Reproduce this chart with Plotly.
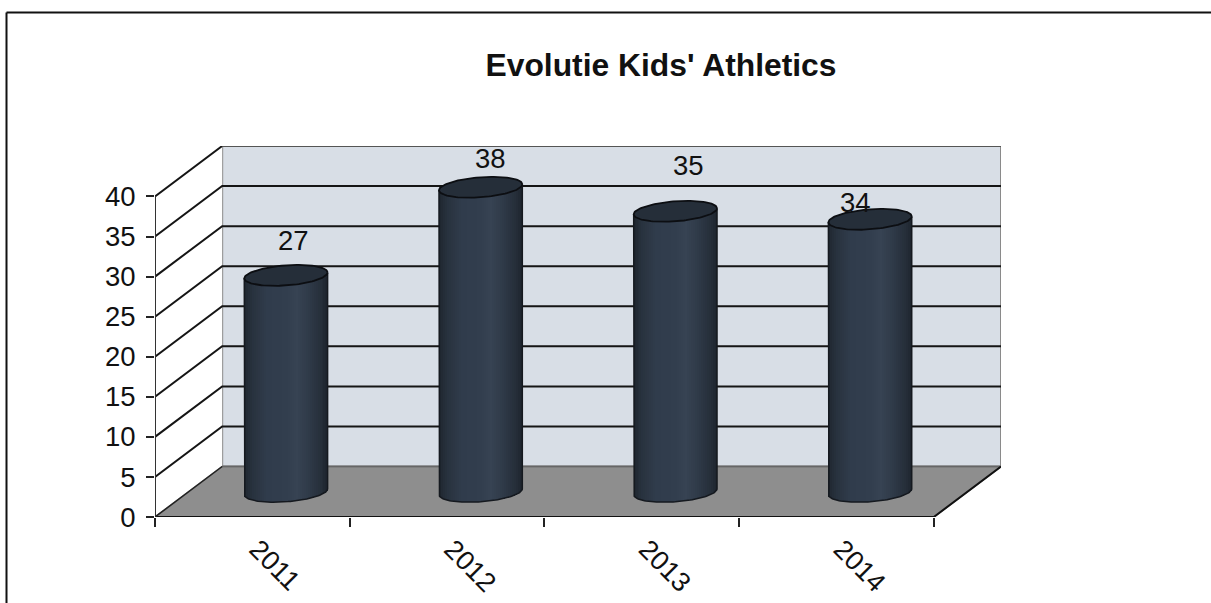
import numpy as np
import plotly.graph_objects as go

# ---- data ----
CATEGORIES = ["2011", "2012", "2013", "2014"]
VALUES = [27, 38, 35, 34]
Y_TICKS = [0, 5, 10, 15, 20, 25, 30, 35, 40]
TITLE = "Evolutie Kids' Athletics"
LABEL_SHIFTS = [(8, 35), (10, 28.5), (13, 45.5), (-15, 16.5)]

# ---- 3-D projection constants, in axis units ----
DEPTH_X = 0.345
DEPTH_Y = 6.3
BASE_Y = 3.15
RAD_X = 0.214
RAD_Y = 1.25
TILT = 0.37
STRIPS = 42

n = len(CATEGORIES)
y_max = Y_TICKS[-1]
FONT = "Liberation Sans, Arial, sans-serif"
fig = go.Figure()


def poly(xs, ys, fill, line="rgba(0,0,0,0)", width=0, z=-3):
    fig.add_trace(go.Scatter(x=xs, y=ys, mode="lines", fill="toself", fillcolor=fill,
                             line=dict(color=line, width=width), hoverinfo="skip",
                             showlegend=False, zorder=z, cliponaxis=False))


def path(xs, ys, color="#111111", width=2, z=-2):
    fig.add_trace(go.Scatter(x=xs, y=ys, mode="lines", line=dict(color=color, width=width),
                             hoverinfo="skip", showlegend=False, zorder=z, cliponaxis=False))


# walls and floor
poly([DEPTH_X, n + DEPTH_X, n + DEPTH_X, DEPTH_X, DEPTH_X],
     [DEPTH_Y, DEPTH_Y, y_max + DEPTH_Y, y_max + DEPTH_Y, DEPTH_Y], "#d8dee6", "#8a8a8a", 2)
poly([0, DEPTH_X, DEPTH_X, 0, 0], [0, DEPTH_Y, y_max + DEPTH_Y, y_max, 0], "#ffffff")
poly([0, n, n + DEPTH_X, DEPTH_X, 0], [0, 0, DEPTH_Y, DEPTH_Y, 0], "#8e8e8e", "#777777", 1.5)

# gridlines across side wall and back wall
for t in Y_TICKS[1:]:
    path([0, DEPTH_X, n + DEPTH_X], [t, t + DEPTH_Y, t + DEPTH_Y], "#151515", 2)
path([DEPTH_X, n + DEPTH_X], [y_max + DEPTH_Y] * 2, "#555555", 2)
path([DEPTH_X, n + DEPTH_X], [DEPTH_Y] * 2, "#666666", 1.5)

# axis lines and floor front edges
path([0, 0], [0, y_max], "#333333", 2, z=-1)
path([0, n, n + DEPTH_X], [0, 0, DEPTH_Y], "#111111", 2, z=-1)
path([0, DEPTH_X], [0, DEPTH_Y], "#222222", 1.5, z=-1)

# cylinder bodies: vertical strips for the shading
u = (np.arange(STRIPS) + 0.5) / STRIPS * 2 - 1
stops_u = [-1.0, -0.8, -0.45, 0.0, 0.25, 0.55, 0.85, 1.0]
stops_c = np.array([[30, 37, 46], [40, 50, 62], [48, 60, 76], [50, 62, 78],
                    [55, 67, 83], [47, 58, 72], [37, 46, 57], [30, 37, 46]])
rgb = np.stack([np.interp(u, stops_u, stops_c[:, k]) for k in range(3)], axis=1)
strip_colors = [f"rgb({r:.0f},{g:.0f},{b:.0f})" for r, g, b in rgb]
strip_w = 2 * RAD_X / STRIPS * 1.15

bx, bbase, bh, bc = [], [], [], []
for i, v in enumerate(VALUES):
    cx = i + 0.5 + DEPTH_X / 2
    for k, uk in enumerate(u):
        low = BASE_Y - RAD_Y * np.sqrt(1 - uk ** 2) + TILT * uk
        high = BASE_Y + v + TILT * uk
        bx.append(cx + RAD_X * uk)
        bbase.append(low)
        bh.append(high - low)
        bc.append(strip_colors[k])
fig.add_trace(go.Bar(x=bx, y=bh, base=bbase, width=strip_w, marker=dict(color=bc, line=dict(width=0)),
                     showlegend=False, hoverinfo="skip", zorder=0))

# cylinder outlines and lids
t = np.linspace(0, 2 * np.pi, 121)
for i, v in enumerate(VALUES):
    cx = i + 0.5 + DEPTH_X / 2
    # side + lower rim
    lower = np.linspace(np.pi, 2 * np.pi, 61)
    ox = np.concatenate([[cx - RAD_X], cx + RAD_X * np.cos(lower), [cx + RAD_X]])
    oy = np.concatenate([[BASE_Y + v - TILT],
                         BASE_Y + RAD_Y * np.sin(lower) + TILT * np.cos(lower),
                         [BASE_Y + v + TILT]])
    path(ox.tolist(), oy.tolist(), "#15191f", 1.5, z=1)
    # lid
    poly((cx + RAD_X * np.cos(t)).tolist(),
         (BASE_Y + v + RAD_Y * np.sin(t) + TILT * np.cos(t)).tolist(),
         "#252e39", "#0c0e12", 1.8, z=2)

# value labels
annotations = [
    dict(x=i + 0.5 + DEPTH_X / 2, y=BASE_Y + v, xref="x", yref="y", text=str(v), showarrow=False,
         xshift=LABEL_SHIFTS[i][0], yshift=LABEL_SHIFTS[i][1],
         font=dict(family=FONT, size=27.5, color="#111111"))
    for i, v in enumerate(VALUES)
]

fig.update_layout(
    template="none",
    width=1211, height=603,
    margin=dict(l=155, r=210, t=146, b=86, pad=0),
    paper_bgcolor="white", plot_bgcolor="white",
    showlegend=False, bargap=0, barmode="overlay",
    title=dict(text=f"<b>{TITLE}</b>", x=661 / 1211, xanchor="center", y=1 - 65 / 603, yanchor="middle",
               font=dict(family=FONT, size=31.8, color="#111111")),
    annotations=annotations,
    xaxis=dict(range=[0, n + DEPTH_X], tickmode="array", tickvals=[i + 0.5 for i in range(n)],
               ticktext=CATEGORIES, tickangle=45, ticks="", ticklen=0, showgrid=False, zeroline=False,
               showline=False, ticklabelstandoff=10, ticklabelshift=5, automargin=False,
               tickfont=dict(family=FONT, size=27, color="#111111"),
               minor=dict(tickmode="array", tickvals=list(range(n + 1)), ticks="outside", ticklen=9,
                          tickwidth=2, tickcolor="#222222", showgrid=False)),
    yaxis=dict(range=[0, y_max + DEPTH_Y], tickmode="array", tickvals=Y_TICKS, ticks="outside", ticklen=8,
               tickwidth=2, tickcolor="#222222", showgrid=False, zeroline=False, showline=False,
               automargin=False, tickfont=dict(family=FONT, size=27.5, color="#111111"), ticklabelstandoff=5),
    shapes=[
        dict(type="line", xref="paper", yref="paper", x0=(6.5 - 155) / 846, x1=(6.5 - 155) / 846,
             y0=-86 / 371, y1=(517 - 12.5) / 371, line=dict(color="#111111", width=2)),
        dict(type="line", xref="paper", yref="paper", x0=(6.5 - 155) / 846, x1=(1211 - 155) / 846,
             y0=(517 - 12.5) / 371, y1=(517 - 12.5) / 371, line=dict(color="#111111", width=2)),
    ],
)

fig.write_html("out.html", config=dict(displayModeBar=False),
               post_script="document.body.style.margin='0';document.documentElement.style.overflow='hidden';")
